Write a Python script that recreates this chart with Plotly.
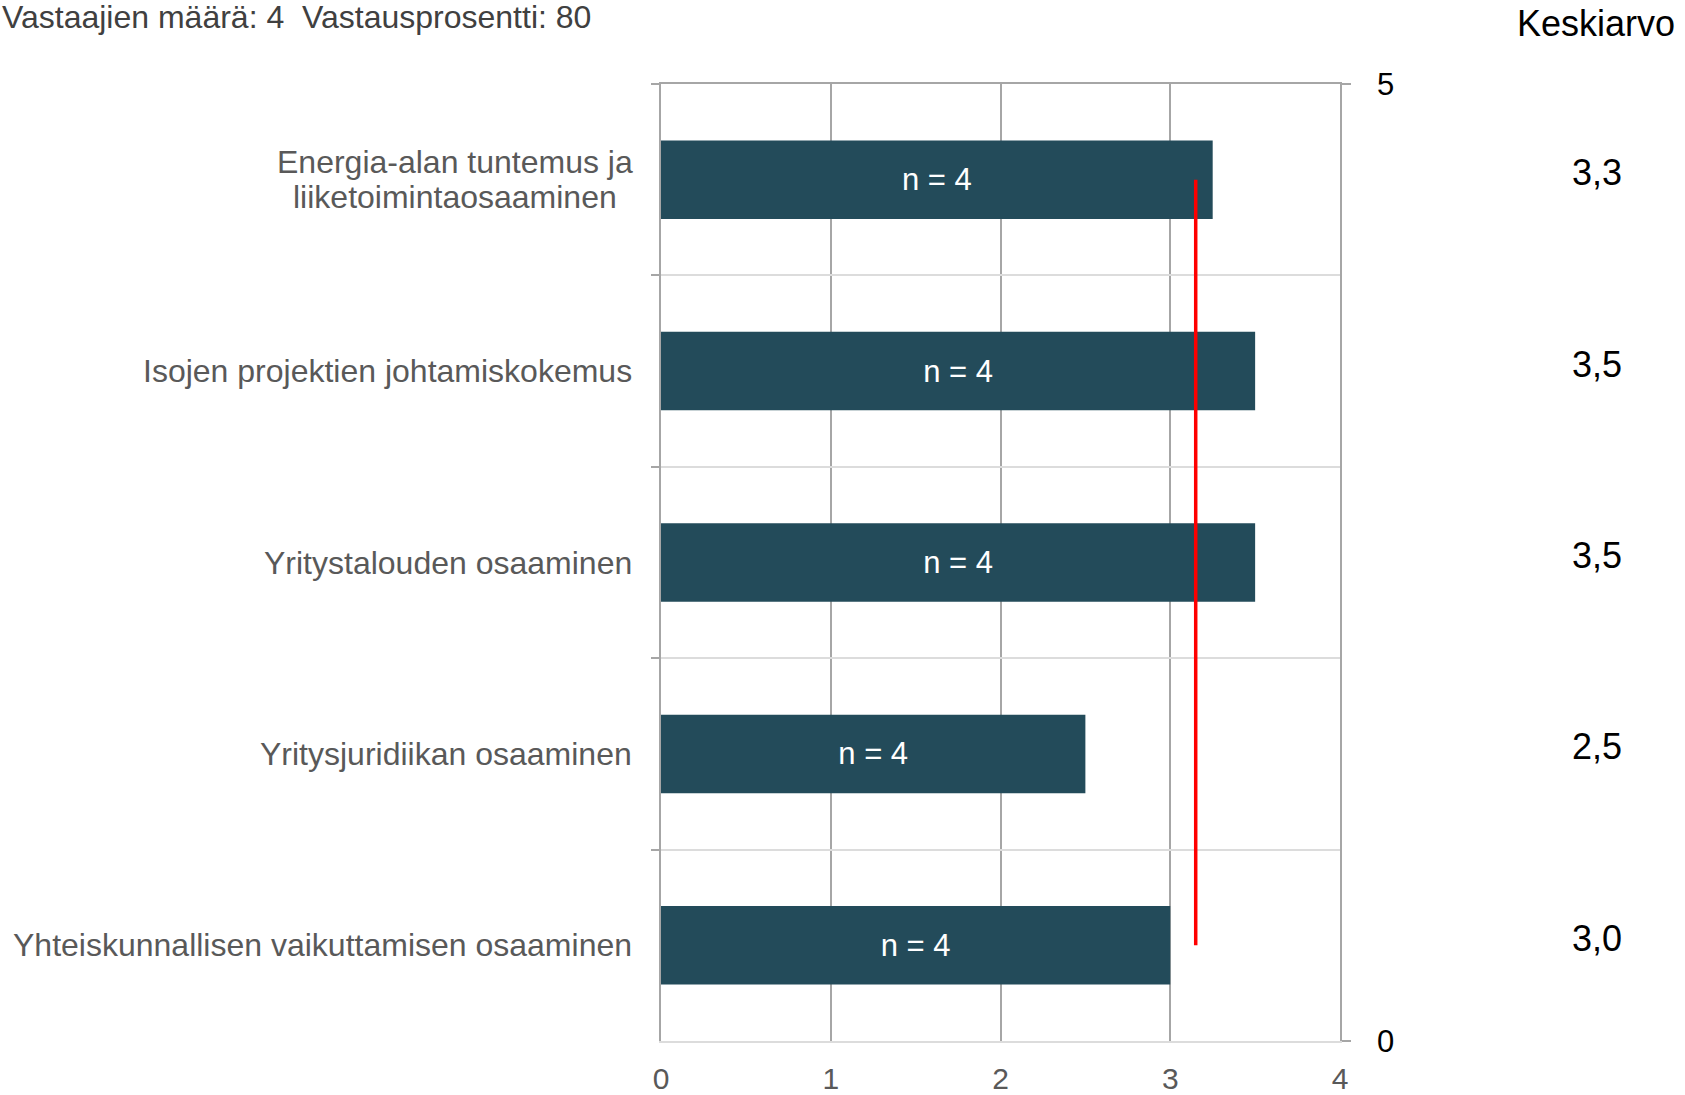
import plotly.graph_objects as go

# ---- data ----
CATEGORIES = [
    "Energia-alan tuntemus ja liiketoimintaosaaminen",
    "Isojen projektien johtamiskokemus",
    "Yritystalouden osaaminen",
    "Yritysjuridiikan osaaminen",
    "Yhteiskunnallisen vaikuttamisen osaaminen",
]
CATEGORY_LABELS = [
    "Energia-alan tuntemus ja<br>liiketoimintaosaaminen",
    "Isojen projektien johtamiskokemus",
    "Yritystalouden osaaminen",
    "Yritysjuridiikan osaaminen",
    "Yhteiskunnallisen vaikuttamisen osaaminen",
]
VALUES = [3.25, 3.5, 3.5, 2.5, 3.0]
N_LABELS = ["n = 4", "n = 4", "n = 4", "n = 4", "n = 4"]
MEAN_LABELS = ["3,3", "3,5", "3,5", "2,5", "3,0"]
OVERALL_MEAN = 3.15
X_TICKS = [0, 1, 2, 3, 4]
RIGHT_TICKS = [0, 5]
HEADER = "Vastaajien määrä: 4  Vastausprosentti: 80"
MEAN_TITLE = "Keskiarvo"

FONT = "Liberation Sans, Arial, sans-serif"
BAR_COLOR = "#234b5a"
GRID_DARK = "#a6a6a6"
GRID_LIGHT = "#dcdcdc"
LABEL_GRAY = "#595959"
LINE_SPACING = 35  # px between lines of a wrapped category label

fig = go.Figure()
fig.add_trace(go.Bar(
    x=VALUES, y=CATEGORIES, orientation="h", width=0.41,
    marker=dict(color=BAR_COLOR, line=dict(width=0)),
    text=N_LABELS, textposition="inside", insidetextanchor="middle",
    textangle=0, constraintext="none",
    textfont=dict(family=FONT, size=31, color="white"),
    hoverinfo="skip", showlegend=False,
))
fig.add_trace(go.Scatter(
    x=[OVERALL_MEAN, OVERALL_MEAN], y=[CATEGORIES[0], CATEGORIES[-1]],
    mode="lines", line=dict(color="#ff0000", width=3.5),
    hoverinfo="skip", showlegend=False,
))
# empty trace so the frame axes (top line, right 0..5 axis) are drawn
fig.add_trace(go.Scatter(x=[], y=[], xaxis="x2", yaxis="y2",
                         hoverinfo="skip", showlegend=False))

annotations = []
for cat, lab in zip(CATEGORIES, CATEGORY_LABELS):
    lines = lab.split("<br>")
    k = len(lines)
    for i, line in enumerate(lines):
        if k > 1:
            annotations.append(dict(
                x=0, xref="paper", y=cat, yref="y", xanchor="center", xshift=-206,
                yshift=((k - 1) / 2 - i) * LINE_SPACING,
                text=line, showarrow=False,
                font=dict(family=FONT, size=32, color=LABEL_GRAY),
            ))
        else:
            annotations.append(dict(
                x=0, xref="paper", y=cat, yref="y", xanchor="right", xshift=-27,
                text=line, showarrow=False,
                font=dict(family=FONT, size=32, color=LABEL_GRAY),
            ))
for cat, m in zip(CATEGORIES, MEAN_LABELS):
    annotations.append(dict(
        x=1.3785, xref="paper", y=cat, yref="y", xanchor="center", yshift=7,
        text=m, showarrow=False, font=dict(family=FONT, size=36, color="black"),
    ))
annotations.append(dict(
    x=-0.9735, xref="paper", y=1.0700, yref="paper", xanchor="left", yanchor="middle",
    text=HEADER, showarrow=False, font=dict(family=FONT, size=32, color="#404040"),
))
annotations.append(dict(
    x=1.4963, xref="paper", y=1.0635, yref="paper", xanchor="right", yanchor="middle",
    text=MEAN_TITLE, showarrow=False, font=dict(family=FONT, size=36, color="black"),
))

fig.update_layout(
    width=1685, height=1095,
    margin=dict(l=661, r=345, t=84, b=54, pad=0, autoexpand=False),
    paper_bgcolor="white", plot_bgcolor="white",
    annotations=annotations,
    xaxis=dict(
        range=[0, 4], tickvals=X_TICKS, showgrid=True, gridcolor=GRID_DARK, gridwidth=1.5,
        zeroline=False, showline=True, linecolor=GRID_LIGHT, linewidth=2,
        ticks="", ticklabelstandoff=10, automargin=False,
        tickfont=dict(family=FONT, size=30, color=LABEL_GRAY),
    ),
    xaxis2=dict(
        overlaying="x", side="top", range=[0, 4], showline=True, linecolor=GRID_DARK,
        linewidth=1.5, showgrid=False, showticklabels=False, ticks="", zeroline=False,
        automargin=False,
    ),
    yaxis=dict(
        type="category", categoryarray=CATEGORIES, autorange="reversed",
        tickson="boundaries", showgrid=True, gridcolor=GRID_LIGHT, gridwidth=2,
        ticks="outside", ticklen=8, tickcolor=GRID_DARK, tickwidth=1.5,
        showline=True, linecolor=GRID_DARK, linewidth=1.5,
        showticklabels=False, zeroline=False, automargin=False,
    ),
    yaxis2=dict(
        overlaying="y", side="right", range=[0, 5], tickvals=RIGHT_TICKS,
        showgrid=False, zeroline=False, showline=True, linecolor=GRID_DARK, linewidth=1.5,
        ticks="outside", ticklen=9, tickcolor=GRID_DARK, tickwidth=1.5,
        ticklabelstandoff=20, automargin=False,
        tickfont=dict(family=FONT, size=31, color="black"),
    ),
)

fig.write_html(
    "out.html",
    config={"displayModeBar": False},
    post_script="document.body.style.margin='0';document.body.style.overflow='hidden';",
)
